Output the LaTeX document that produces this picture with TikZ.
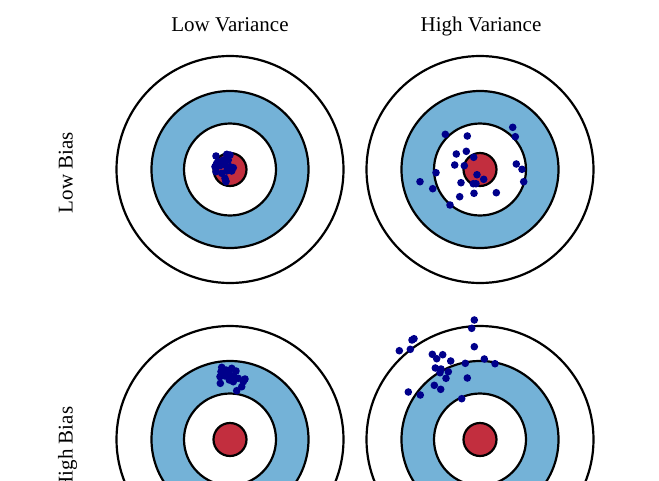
\documentclass[tikz,border=0pt]{standalone}
\usepackage{fontspec}
\setmainfont{Liberation Serif}
\definecolor{tblue}{HTML}{74B2D7}
\definecolor{tred}{HTML}{C22E3E}
\definecolor{dotc}{HTML}{00008B}
\begin{document}
\begin{tikzpicture}[x=1pt,y=-1pt,
  ring/.style={draw=black,line width=2.2pt},
  shot/.style={fill=dotc},
  lab/.style={font=\fontsize{21}{24}\selectfont, inner sep=0pt, anchor=base}]
\useasboundingbox (0,0) rectangle (659,480);
\clip (0,0) rectangle (659,480);
\def\drawtarget#1#2{%
  \filldraw[ring,fill=white] (#1,#2) circle[radius=113.5];
  \filldraw[ring,fill=tblue] (#1,#2) circle[radius=78.5];
  \filldraw[ring,fill=white] (#1,#2) circle[radius=46];
  \filldraw[ring,fill=tred] (#1,#2) circle[radius=16.5];
}
\drawtarget{230}{169.5}
\drawtarget{480}{169.5}
\drawtarget{230}{439.5}
\drawtarget{480}{439.5}
% low bias, low variance
\foreach \p in {(216,156),(226.7,154.3),(230,155),(218.3,161.7),(223.3,160),(215,166.7),(220,165.7),(225,165),(233.3,167.7),(229.3,169),(216,171.7),(221.7,173.3),(226.7,171),(225,178.3),(226,181.7),(231.7,171),(216.7,163.3),(228.3,160),(230,166.7),(225.7,180.7)}
  \fill[shot] \p circle[radius=3.8];
% low bias, high variance
\foreach \p in {(445.3,134.3),(467.3,136),(512.7,127.3),(515.3,136.7),(456.3,154),(466.3,151.3),(473.7,157.3),(454.7,165),(464.3,165.7),(436,172.7),(420,181.7),(432.7,188.7),(477,174.7),(483.7,179.3),(461,182.7),(473.3,183.7),(476,183.7),(516.3,164),(522,169.3),(523.7,181.7),(474,193.3),(496.3,192.7),(459.7,196.7),(450,205)}
  \fill[shot] \p circle[radius=3.8];
% high bias, low variance
\foreach \p in {(221.7,367.3),(221,371.7),(226,370),(231.7,368.3),(236,371),(220,376.7),(225,376),(230,375),(234,376.7),(238.3,378.3),(245,379),(243.3,381.7),(241.7,386.7),(229.3,380),(233.3,381.7),(220.3,383.3),(236.7,390.7),(228.3,371.7)}
  \fill[shot] \p circle[radius=3.8];
% high bias, high variance
\foreach \p in {(474.3,320),(471.7,328.3),(414,338.7),(412,340),(399.3,350.7),(410.3,349.3),(474.3,346.7),(432.3,354.3),(442.7,354.7),(436.7,358.7),(450.7,361),(465.3,363.3),(484.3,359),(495,363.7),(435.3,368),(441,369),(448.3,371.7),(440,372.7),(446,378.3),(467.3,378),(434.3,385.3),(440.7,389.3),(408.3,392),(420.3,395),(461.7,398.7)}
  \fill[shot] \p circle[radius=3.8];
% labels
\node[lab] (lv) at (230,31.5) {Low Variance};
\node[lab] (hv) at (481,31.5) {High Variance};
\node[lab,rotate=90] (lb) at (72.5,172.5) {Low Bias};
\node[lab,rotate=90] (hb) at (72.5,449) {High Bias};
\end{tikzpicture}
\end{document}
